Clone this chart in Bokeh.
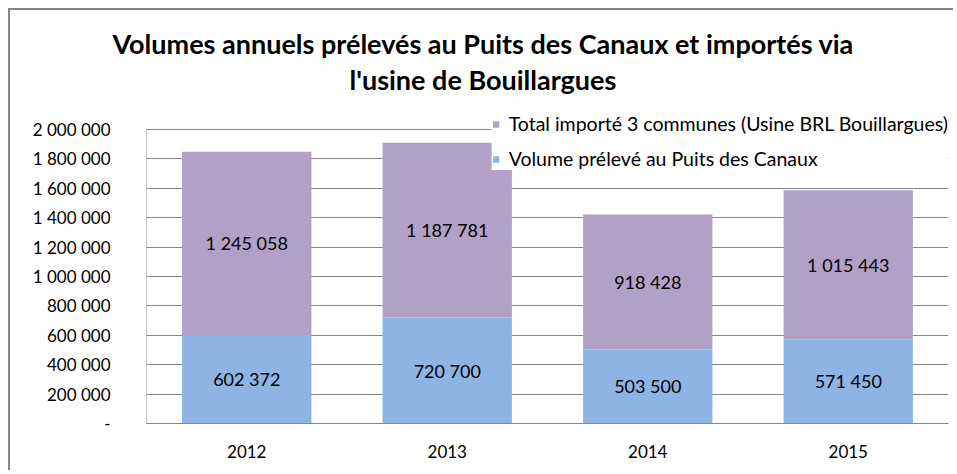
from bokeh.plotting import figure
from bokeh.models import (ColumnDataSource, FactorRange, Range1d, FixedTicker, LabelSet,
                          Title, Legend, LegendItem)
from bokeh.core.properties import value
from bokeh.embed import file_html
from bokeh.resources import INLINE

# ---- data ----
years = ["2012", "2013", "2014", "2015"]
puits = [602372, 720700, 503500, 571450]
importe = [1245058, 1187781, 918428, 1015443]
y_ticks = [0, 200000, 400000, 600000, 800000, 1000000, 1200000, 1400000, 1600000, 1800000, 2000000]
y_tick_labels = ["-", "200 000", "400 000", "600 000", "800 000", "1 000 000", "1 200 000",
                 "1 400 000", "1 600 000", "1 800 000", "2 000 000"]
series_names = ["Volume prélevé au Puits des Canaux",
                "Total importé 3 communes (Usine BRL Bouillargues)"]
title_lines = ["Volumes annuels prélevés au Puits des Canaux et importés via",
               "l'usine de Bouillargues"]

BLUE = "#8EB4E3"
PURPLE = "#B2A1C7"
GRID = "#868686"
FONT = "Lato"


def fmt(v):
    return f"{v:,}".replace(",", " ")


src = ColumnDataSource(dict(
    x=years, puits=puits, importe=importe,
    puits_mid=[p / 2 for p in puits],
    imp_mid=[p + i / 2 for p, i in zip(puits, importe)],
    puits_txt=[fmt(v) for v in puits],
    imp_txt=[fmt(v) for v in importe],
))

p = figure(x_range=FactorRange(*years), y_range=Range1d(0, 2115000), title=None,
           width=945, height=462, output_backend="svg", toolbar_location=None,
           min_border_left=136, min_border_right=7, min_border_top=102, min_border_bottom=49)
p.styles = {"margin-left": "8px", "margin-top": "8px",
            "border-left": "2px solid #868686", "border-top": "2px solid #868686"}
p.x_range.range_padding = 0
p.x_range.factor_padding = 0

rs = p.vbar_stack(["puits", "importe"], x="x", width=0.645, source=src,
                  color=[BLUE, PURPLE], line_color=None)

# y axis line only up to the top tick
p.segment(x0=[0], y0=[y_ticks[0]], x1=[0], y1=[y_ticks[-1]], line_color=GRID, line_width=1)

# axes
p.yaxis.ticker = FixedTicker(ticks=y_ticks)
p.yaxis.major_label_overrides = {t: l for t, l in zip(y_ticks, y_tick_labels)}
p.yaxis.major_tick_out = 0
p.yaxis.major_tick_in = 0
p.yaxis.minor_tick_out = 0
p.yaxis.minor_tick_in = 0
p.yaxis.major_label_standoff = 36
p.yaxis.axis_line_color = None
p.xaxis.axis_line_color = GRID
p.xaxis.major_tick_out = 0
p.xaxis.major_tick_in = 0
p.xaxis.major_label_standoff = 21
for ax in (p.xaxis, p.yaxis):
    ax.major_label_text_font = FONT
    ax.major_label_text_font_size = "17px"
    ax.major_label_text_color = "#000000"

p.xgrid.grid_line_color = None
p.ygrid.grid_line_color = GRID
p.ygrid.grid_line_width = 1
p.outline_line_color = None
p.background_fill_color = "white"
p.border_fill_color = "white"

# value labels
for col, txt in (("puits_mid", "puits_txt"), ("imp_mid", "imp_txt")):
    ls = LabelSet(x="x", y=col, text=txt, source=src, text_align="center",
                  text_baseline="middle", text_font=value(FONT),
                  text_font_size="18px", text_color="#000000")
    p.add_layout(ls)

# titles (a small blank spacer title keeps the two lines away from the frame)
p.add_layout(Title(text=" ", text_font_size="1px", standoff=13), "above")
p.add_layout(Title(text=title_lines[1], align="left", text_font=FONT,
                   text_font_size="27px", text_font_style="bold", text_color="#000000",
                   offset=203, standoff=2), "above")
p.add_layout(Title(text=title_lines[0], align="left", text_font=FONT,
                   text_font_size="27px", text_font_style="bold", text_color="#000000",
                   offset=-34, standoff=0), "above")

legend = Legend(items=[LegendItem(label=series_names[1], renderers=[rs[1]]),
                       LegendItem(label=series_names[0], renderers=[rs[0]])],
                location="top_right", orientation="vertical",
                glyph_width=8, glyph_height=8, label_height=20, spacing=12,
                padding=4, margin=0, label_standoff=9,
                label_text_font=FONT, label_text_font_size="19.5px", label_text_color="#000000",
                border_line_color=None, background_fill_color="white", background_fill_alpha=1.0)
p.add_layout(legend)

open("out.html", "w").write(file_html(p, INLINE))
